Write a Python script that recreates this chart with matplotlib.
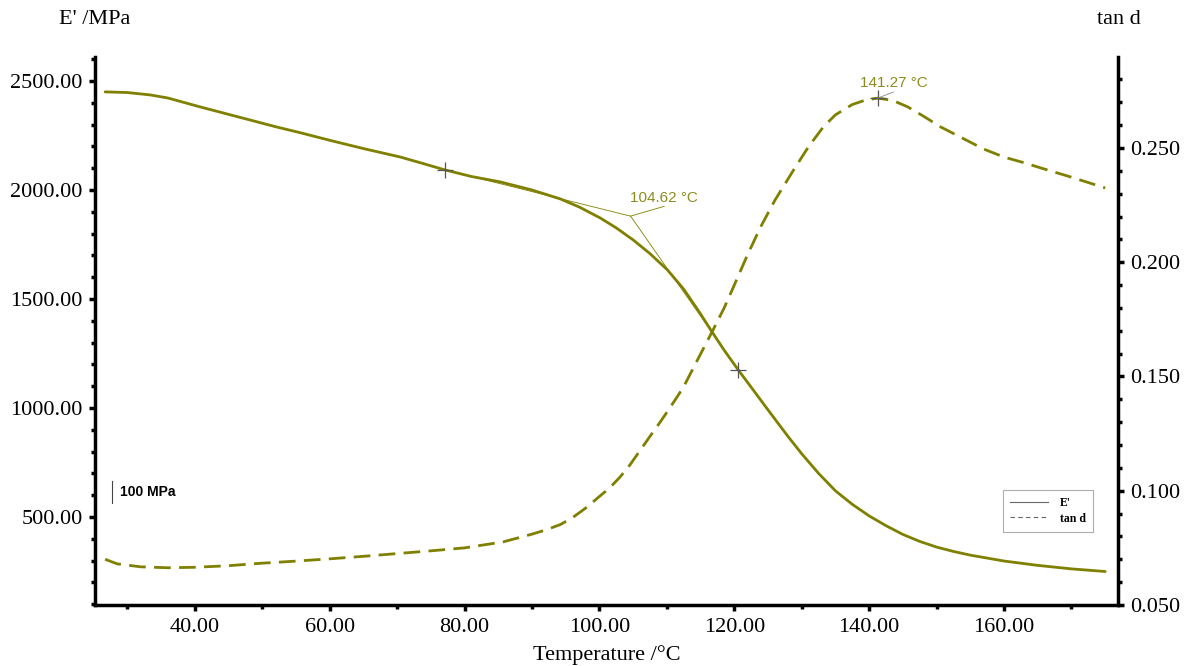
import numpy as np
import matplotlib
matplotlib.use('Agg')
import matplotlib.pyplot as plt
from matplotlib.ticker import MultipleLocator, FormatStrFormatter
from matplotlib.lines import Line2D

plt.rcParams['font.family'] = 'Liberation Serif'

# storage modulus E' (MPa) vs temperature
temp_e = [26.7, 30.0, 33.4, 36.0, 40.8, 44.0, 48.2, 52.0, 55.6, 60.0, 65.0, 70.5, 74.0,
          77.1, 81.0, 85.3, 90.0, 94.2, 97.0, 100.1, 102.5, 105.0, 107.5, 110.1, 112.5,
          114.9, 116.7, 118.5, 120.6, 122.8, 124.5, 126.0, 128.0, 130.0, 132.5, 135.0,
          137.5, 140.0, 142.5, 145.0, 147.5, 150.0, 152.5, 155.0, 160.0, 165.0, 170.0, 175.0]
e_mod = [2450, 2447, 2436, 2422, 2381, 2355, 2321, 2290, 2263, 2228, 2190, 2151, 2120,
         2092, 2062, 2037, 2000, 1959, 1922, 1872, 1826, 1771, 1708, 1633, 1545,
         1436, 1349, 1265, 1174, 1083, 1012, 950, 868, 790, 700, 620,
         558, 505, 460, 420, 388, 362, 342, 325, 298, 278, 262, 250]

# loss factor tan d vs temperature
temp_t = [26.7, 28.5, 32.0, 36.0, 40.0, 45.0, 50.0, 55.0, 60.0, 65.0, 70.0, 75.0, 80.0,
          85.7, 90.0, 92.0, 94.2, 96.0, 98.0, 100.0, 101.5, 103.0, 104.5, 106.0, 107.5,
          109.0, 110.5, 112.4, 114.5, 116.7, 118.5, 120.0, 122.0, 123.9, 126.0, 128.8,
          131.0, 133.2, 135.0, 137.5, 139.5, 141.27, 143.5, 145.7, 148.0, 150.6, 153.5,
          157.0, 160.0, 163.0, 165.4, 170.0, 175.0]
tan_d = [0.0700, 0.0680, 0.0667, 0.0663, 0.0665, 0.0672, 0.0683, 0.0692, 0.0702, 0.0713,
         0.0725, 0.0737, 0.0750, 0.0776, 0.0810, 0.0828, 0.0852, 0.0882, 0.0925, 0.0975,
         0.1012, 0.1058, 0.1112, 0.1175, 0.1238, 0.1300, 0.1365, 0.1450, 0.1570, 0.1695,
         0.1800, 0.1900, 0.2035, 0.2154, 0.2270, 0.2404, 0.2505, 0.2592, 0.2645, 0.2690,
         0.2710, 0.2718, 0.2708, 0.2680, 0.2640, 0.2592, 0.2548, 0.2495, 0.2460, 0.2435,
         0.2413, 0.2372, 0.2325]

# onset evaluation (tangents) and tan d peak
onset_x, onset_e = 104.62, 1880
tangent_pts = [(77.1, 2092), (120.6, 1174)]
peak_x, peak_t = 141.27, 0.2718

olive = '#808000'
txt_olive = '#8c8c1e'

fig = plt.figure(figsize=(11.9, 6.66), dpi=100)
ax = fig.add_axes([95/1190, 1-605/666, (1118-95)/1190, (605-57)/666])
ax2 = ax.twinx()

ax.plot(temp_e, e_mod, color=olive, lw=2.0, solid_capstyle='round', solid_joinstyle='round')
ax2.plot(temp_t, tan_d, color=olive, lw=2.0, linestyle=(0, (6, 3)))

# tangent construction for onset
for tx, te in tangent_pts:
    ax.plot([tx, onset_x], [te, onset_e], color=olive, lw=0.6)
    ax.plot(tx, te, marker='+', ms=12, mew=0.9, color='#555555')
ax.plot([onset_x, 109.6], [onset_e, 1925], color=olive, lw=0.6)
ax.text(109.6, 1930, '104.62 \u00b0C', color=txt_olive, fontsize=11,
        family='Liberation Sans', ha='center', va='bottom')

ax2.plot(peak_x, peak_t, marker='+', ms=12, mew=0.9, color='#555555')
ax2.plot([peak_x, 143.6], [peak_t, 0.2745], color='#888888', lw=0.6)
ax2.text(143.6, 0.2755, '141.27 \u00b0C', color=txt_olive, fontsize=11,
         family='Liberation Sans', ha='center', va='bottom')

# 100 MPa scale bar
ax.plot([27.7, 27.7], [564, 664], color='#444444', lw=0.8)
ax.text(28.9, 614, '100 MPa', fontsize=10, fontweight='bold',
        family='Liberation Sans', va='center', ha='left')

ax.set_xlim(25.2, 176.9)
ax.set_ylim(96.3, 2610)
ax2.set_ylim(0.05, 0.2898)

ax.xaxis.set_major_locator(MultipleLocator(20))
ax.xaxis.set_minor_locator(MultipleLocator(10))
ax.yaxis.set_major_locator(MultipleLocator(500))
ax.yaxis.set_minor_locator(MultipleLocator(100))
ax2.yaxis.set_major_locator(MultipleLocator(0.05))
ax2.yaxis.set_minor_locator(MultipleLocator(0.01))
ax.xaxis.set_major_formatter(FormatStrFormatter('%.2f'))
ax.yaxis.set_major_formatter(FormatStrFormatter('%.2f'))
ax2.yaxis.set_major_formatter(FormatStrFormatter('%.3f'))

for a in (ax, ax2):
    for s in a.spines.values():
        s.set_linewidth(2.5)
    a.spines['top'].set_visible(False)
    a.tick_params(which='major', length=4, width=2.5, labelsize=16, pad=5)
    a.tick_params(which='minor', length=3, width=2.5)
ax.spines['right'].set_visible(False)
ax2.spines['left'].set_visible(False)
ax2.spines['bottom'].set_visible(False)

ax.set_xlabel('Temperature /\u00b0C', fontsize=16, labelpad=6)
fig.text(95/1190, 1-20/666, "E' /MPa", fontsize=16, ha='center', va='center')
fig.text(1119/1190, 1-20/666, 'tan d', fontsize=16, ha='center', va='center')

handles = [Line2D([], [], color='#666666', lw=0.8),
           Line2D([], [], color='#666666', lw=0.8, linestyle=(0, (4, 3)))]
leg = ax.legend(handles, ["E'", 'tan d'], loc='upper left',
                bbox_to_anchor=((1003-95)/1023, (605-490)/548),
                prop={'family': 'Liberation Serif', 'weight': 'bold', 'size': 8.5},
                frameon=True, fancybox=False, borderaxespad=0, handlelength=3.2,
                handletextpad=1.0, borderpad=0.6, labelspacing=0.3)
leg.get_frame().set_edgecolor('#999999')
leg.get_frame().set_linewidth(0.8)

fig.savefig('out.png', dpi=100)
